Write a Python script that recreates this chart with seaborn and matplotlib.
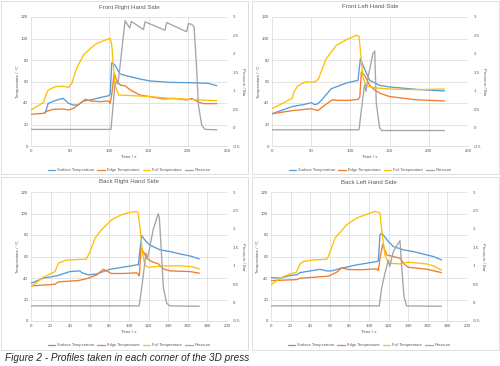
import matplotlib
matplotlib.use("Agg")
import matplotlib.pyplot as plt
from matplotlib.lines import Line2D
from matplotlib.patches import Rectangle
import seaborn as sns

sns.set_theme(style="white")
plt.rcParams['font.family'] = ['Liberation Sans', 'DejaVu Sans']

# ---- Front Right Hand Side ----
fr_surf_t = [18, 22, 33, 41, 48, 54, 60, 67, 76, 88, 99, 101, 103, 107, 113, 118, 139, 152, 177, 203, 226, 237]
fr_surf_v = [30.4, 39.7, 42.8, 44.3, 39.7, 38.1, 38.3, 41.9, 42.8, 45, 46.8, 48, 77.5, 75.3, 67.6, 66, 62.3, 60.5, 59.2, 58.9, 58.3, 56.1]
fr_edge_t = [0, 16, 19, 28, 41, 48, 54, 63, 69, 76, 88, 99, 101, 103, 106, 110, 114, 120, 127, 139, 152, 169, 182, 199, 205, 214, 220, 237]
fr_edge_v = [29.5, 30.4, 32, 34.1, 34.4, 33.5, 35, 39.7, 43.4, 41.9, 41.2, 41.9, 39.7, 48, 67.6, 59.8, 56.7, 56, 52, 47.4, 45.9, 43.7, 44.3, 42.8, 44.3, 40.6, 39.4, 39.4]
fr_foil_t = [0, 16, 19, 22, 31, 41, 48, 52, 58, 67, 76, 84, 95, 101, 103, 107, 112, 139, 152, 177, 203, 213, 237]
fr_foil_v = [33.5, 40.6, 47.4, 52, 55.2, 55.8, 54.3, 58.3, 72, 84.7, 90.9, 95.5, 98.6, 100.2, 94, 56.7, 47.4, 46.5, 45.9, 44.3, 43.4, 42.8, 42.2]
fr_pres_t = [0, 102, 107, 109, 111, 120, 126, 128, 143.5, 145.5, 171, 173, 198.5, 200.7, 205, 208, 211, 213.5, 217.7, 222, 237]
fr_pres_v = [-0.05, -0.05, 1.15, 1.25, 1.18, 2.9, 2.7, 2.88, 2.66, 2.87, 2.64, 2.85, 2.6, 2.82, 2.8, 2.73, 1.7, 0.61, 0.07, -0.05, -0.06]

# ---- Front Left Hand Side ----
fl_surf_t = [0, 26.8, 39.5, 50.2, 54.4, 58.7, 62.9, 75.7, 94.8, 109.7, 112.7, 116, 124.6, 137.3, 150, 184, 220]
fl_surf_v = [30, 36.9, 38.4, 40.3, 38.4, 39.4, 42.5, 53.3, 58.6, 61.1, 81.2, 75, 61.1, 56.4, 54.9, 52.7, 51.2]
fl_edge_t = [0, 26.8, 50.2, 58.7, 67.3, 77, 82, 99, 110, 112, 114, 118, 124.6, 131, 138, 150, 184, 220]
fl_edge_v = [30, 33, 34.7, 33, 38, 43, 42.5, 42.5, 43.4, 45.6, 69, 66, 56.4, 52, 49, 46, 43, 41.9]
fl_foil_t = [0, 14, 26, 27.6, 33, 42, 54, 59, 69, 82, 95, 108, 111, 112.7, 116, 120, 133, 150, 184, 220]
fl_foil_v = [34.7, 40, 44.6, 50, 56, 59.5, 59.5, 62, 81, 93.6, 99, 103, 102, 89, 64, 56, 54, 53, 52.4, 53]
fl_pres_t = [0, 111, 114, 118, 120, 122, 128.6, 131, 133, 137.3, 140, 220]
fl_pres_v = [-0.06, -0.06, 0.48, 1.16, 0.98, 1.3, 2.0, 2.08, 0.66, -0.01, -0.08, -0.08]

# ---- Back Right Hand Side ----
br_surf_t = [0, 12.6, 26.2, 39.8, 50, 51.7, 58.5, 67, 80.6, 97.6, 107.8, 109.5, 111, 113, 116, 121, 131.6, 141.8, 152, 162, 171.7]
br_surf_v = [35.1, 39.8, 42, 46, 46.6, 45, 42.9, 43.8, 48.1, 50.6, 52.2, 52.3, 64.6, 79.5, 75.5, 70.8, 66.2, 64.6, 62.4, 60.6, 57.8]
br_edge_t = [0, 24.5, 27.9, 48.3, 58.5, 67, 73.8, 82.3, 94.2, 107.8, 109.5, 110.5, 112.3, 114.6, 118, 123, 130, 135, 141.8, 162, 171.7]
br_edge_v = [32.6, 34.2, 36.4, 37.6, 39.8, 42.9, 48.1, 44.2, 44.2, 44.8, 43.5, 42, 67.7, 64.6, 58.4, 55.3, 53.1, 48.5, 46.6, 46, 44.5]
br_foil_t = [0, 12.6, 24.5, 27.9, 36.4, 55.1, 56.5, 60, 65.3, 72, 82.3, 92.5, 101, 107.8, 109.5, 111, 113.9, 116, 119.6, 134.9, 151.9, 163.8, 171.7]
br_foil_v = [32, 40.7, 46, 53.8, 56.8, 57.5, 57.5, 64, 77.1, 84.9, 94.2, 98.9, 101, 101.9, 100.4, 88, 63, 52.3, 50, 51.3, 51.3, 50.6, 48.5]
br_pres_t = [0, 110.3, 112.6, 116, 117.3, 119, 124.7, 129.8, 131, 133.3, 135, 138.4, 141.8, 171.7]
br_pres_v = [-0.09, -0.09, 0.32, 1.05, 1.34, 1.2, 1.98, 2.41, 2.3, 1.25, 0.43, -0.02, -0.09, -0.1]

# ---- Back Left Hand Side ----
bl_surf_t = [0, 9.2, 19.4, 26.2, 29.6, 50, 56.8, 61.9, 70.4, 87.4, 107.8, 109.5, 111.2, 113, 119.7, 124.8, 135, 145.2, 158.8, 165.6, 174]
bl_surf_v = [40.4, 39.8, 42.3, 42.9, 45, 48.1, 46.6, 46.6, 48.8, 52.2, 55.3, 56, 80.2, 81.8, 74, 69.3, 66.2, 64.6, 61.5, 60, 56.8]
bl_edge_t = [0, 26.2, 29.6, 58.5, 67, 72.1, 78.9, 90.8, 107.8, 109.5, 111.5, 114, 118, 124.8, 131.6, 136.7, 140, 158.8, 174]
bl_edge_v = [37.6, 38.5, 39.8, 41.7, 45.4, 49.4, 47.9, 47.6, 48.5, 47, 60, 71.4, 61.5, 60, 58.4, 52.3, 50, 48.2, 45]
bl_foil_t = [0, 9.2, 19.4, 25.5, 29.6, 33, 43.2, 56.8, 58.5, 65.3, 77.2, 87.4, 101, 106, 109.5, 111.2, 112.9, 116.3, 119.7, 131.6, 140, 158.8, 165.6, 174]
bl_foil_v = [33.6, 39.8, 43.8, 45, 53.1, 55.3, 56.8, 57.5, 60, 77.1, 89.5, 95.8, 100.4, 102, 101, 100.4, 84.9, 61.5, 53.8, 53.1, 54.7, 53.1, 51.3, 47.5]
bl_pres_t = [0, 110.5, 112.9, 116.3, 119.7, 121.2, 124.8, 129.9, 131.6, 133.3, 135.7, 138.4, 174]
bl_pres_v = [-0.09, -0.09, 0.39, 0.8, 1.15, 0.98, 1.38, 1.61, 1.68, 1.0, 0.16, -0.09, -0.1]

series_names = ["Surface Temperature", "Edge Temperature", "Foil Temperature", "Pressure"]
colors = ["#5B9BD5", "#ED7D31", "#FFC000", "#A5A5A5"]
txt = "#595959"
grid = "#D9D9D9"

panels = [
    ("Front Right Hand Side", [31, 17, 227, 146], 250, 50,
     [(fr_surf_t, fr_surf_v), (fr_edge_t, fr_edge_v), (fr_foil_t, fr_foil_v)], (fr_pres_t, fr_pres_v)),
    ("Front Left Hand Side", [272, 17, 468, 146], 250, 50,
     [(fl_surf_t, fl_surf_v), (fl_edge_t, fl_edge_v), (fl_foil_t, fl_foil_v)], (fl_pres_t, fl_pres_v)),
    ("Back Right Hand Side", [31, 192, 227, 321], 200, 20,
     [(br_surf_t, br_surf_v), (br_edge_t, br_edge_v), (br_foil_t, br_foil_v)], (br_pres_t, br_pres_v)),
    ("Back Left Hand Side", [271, 192, 467, 321], 200, 20,
     [(bl_surf_t, bl_surf_v), (bl_edge_t, bl_edge_v), (bl_foil_t, bl_foil_v)], (bl_pres_t, bl_pres_v)),
]

W, H = 500, 366
fig = plt.figure(figsize=(5, 3.66), dpi=100)
fig.patch.set_facecolor("white")

# chart frames
for x0, y0, x1, y1 in [(1, 1, 248, 174), (252, 1, 499, 174), (1, 177, 248, 350), (252, 177, 499, 350)]:
    fig.patches.append(Rectangle((x0 / W, 1 - y1 / H), (x1 - x0) / W, (y1 - y0) / H,
                                 transform=fig.transFigure, fill=False, ec=grid, lw=0.6))

fs = 3.2
for title, (l, t, r, b), xmax, xstep, temps, pres in panels:
    ax = fig.add_axes([l / W, 1 - b / H, (r - l) / W, (b - t) / H])
    for (xs, ys), c in zip(temps, colors[:3]):
        sns.lineplot(x=xs, y=ys, ax=ax, color=c, linewidth=0.95, estimator=None, sort=False)
    ax.set_xlim(0, xmax)
    ax.set_ylim(0, 120)
    ax.set_xticks(range(0, xmax + 1, xstep))
    ax.set_yticks(range(0, 121, 20))
    ax.grid(True, color=grid, linewidth=0.5)
    for s in ax.spines.values():
        s.set_visible(False)
    ax.spines['bottom'].set_visible(True)
    ax.spines['bottom'].set_color(grid)
    ax.spines['bottom'].set_linewidth(0.6)
    ax.tick_params(labelsize=fs, colors=txt, length=0, pad=2)

    ax2 = ax.twinx()
    sns.lineplot(x=pres[0], y=pres[1], ax=ax2, color=colors[3], linewidth=0.95, estimator=None, sort=False)
    ax2.set_ylim(-0.5, 3)
    ax2.set_yticks([-0.5, 0, 0.5, 1, 1.5, 2, 2.5, 3])
    ax2.set_yticklabels(["-0.5", "0", "0.5", "1", "1.5", "2", "2.5", "3"])
    ax2.grid(False)
    for s in ax2.spines.values():
        s.set_visible(False)
    ax2.tick_params(labelsize=fs, colors=txt, length=0, pad=4)

    ax.set_xlabel("")
    ax.set_ylabel("")
    ax2.set_ylabel("")
    ax.text(0.5, 1 + 10 / (b - t), title, transform=ax.transAxes, ha="center", va="center",
            fontsize=4.4, color=txt)
    ax.text(0.5, -11 / (b - t), "Time / s", transform=ax.transAxes, ha="center", va="center",
            fontsize=fs, color=txt)
    ax.text(-13 / (r - l), 0.5, "Temperature / °C", transform=ax.transAxes, ha="center", va="center",
            rotation=90, fontsize=fs, color=txt)
    ax.text(1 + 16 / (r - l), 0.5, "Pressure / Bar", transform=ax.transAxes, ha="center", va="center",
            rotation=270, fontsize=fs, color=txt)

    handles = [Line2D([], [], color=c, lw=0.9) for c in colors]
    ax.legend(handles, series_names, loc="center", bbox_to_anchor=(0.5, -24 / (b - t)), ncol=4,
              frameon=False, fontsize=2.9, labelcolor=txt, handlelength=1.9, handletextpad=0.4,
              columnspacing=0.8, borderaxespad=0)

fig.text(5 / W, 1 - 358 / H, "Figure 2 - Profiles taken in each corner of the 3D press",
         style="italic", fontsize=7.2, color="#262626", ha="left", va="center")

fig.savefig("out.png", dpi=100)
